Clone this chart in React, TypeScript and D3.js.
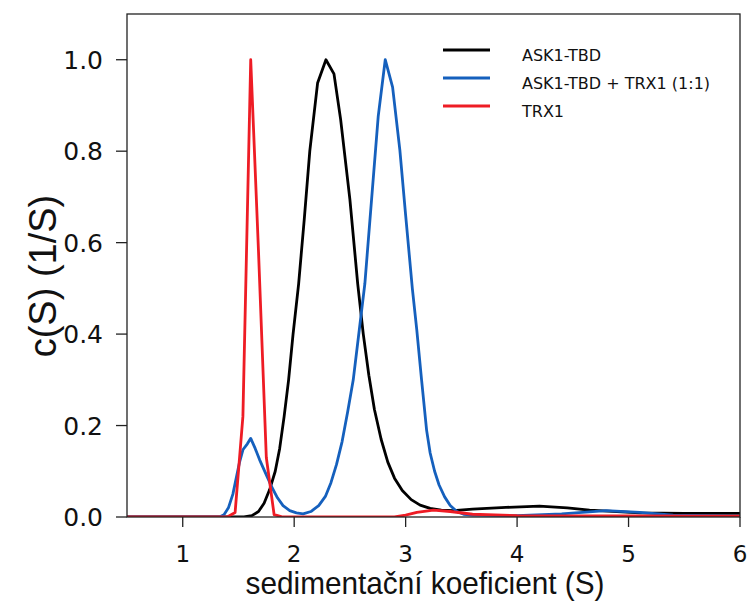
import React from "react";
import * as d3 from "d3";

// ---- data ----
const seriesNames = ["ASK1-TBD", "ASK1-TBD + TRX1 (1:1)", "TRX1"];
const seriesColors = ["#000000", "#1560bd", "#ee1c25"];

const ask1S = [0.5, 1.55, 1.62, 1.68, 1.73, 1.78, 1.83, 1.87, 1.91, 1.95, 1.99, 2.04, 2.09, 2.14, 2.21, 2.285, 2.357, 2.417, 2.5, 2.57, 2.62, 2.67, 2.72, 2.78, 2.84, 2.9, 2.97, 3.05, 3.13, 3.22, 3.32, 3.43, 3.6, 3.9, 4.2, 4.45, 4.65, 5.1, 5.5, 6.0];
const ask1C = [0, 0, 0.003, 0.012, 0.03, 0.06, 0.1, 0.15, 0.22, 0.3, 0.4, 0.51, 0.65, 0.8, 0.949, 1.0, 0.969, 0.869, 0.694, 0.51, 0.4, 0.31, 0.235, 0.17, 0.12, 0.085, 0.058, 0.038, 0.026, 0.019, 0.015, 0.014, 0.017, 0.021, 0.024, 0.02, 0.015, 0.009, 0.008, 0.008];

const complexS = [0.5, 1.33, 1.37, 1.41, 1.45, 1.48, 1.51, 1.54, 1.58, 1.61, 1.65, 1.69, 1.75, 1.8, 1.85, 1.9, 1.96, 2.02, 2.08, 2.15, 2.22, 2.28, 2.33, 2.38, 2.43, 2.48, 2.53, 2.584, 2.634, 2.754, 2.817, 2.883, 2.948, 3.0, 3.06, 3.1, 3.143, 3.188, 3.22, 3.26, 3.3, 3.35, 3.4, 3.46, 3.52, 3.6, 4.0, 4.4, 4.8, 5.1, 5.4, 6.0];
const complexC = [0, 0, 0.005, 0.02, 0.05, 0.085, 0.12, 0.147, 0.16, 0.172, 0.15, 0.125, 0.092, 0.065, 0.042, 0.025, 0.014, 0.009, 0.007, 0.012, 0.025, 0.045, 0.075, 0.115, 0.165, 0.23, 0.3, 0.409, 0.51, 0.876, 1.0, 0.94, 0.803, 0.66, 0.5, 0.409, 0.3, 0.19, 0.14, 0.1, 0.07, 0.044, 0.025, 0.012, 0.006, 0.004, 0.003, 0.007, 0.014, 0.01, 0.004, 0.002];

const trxS = [0.5, 1.4, 1.47, 1.54, 1.61, 1.68, 1.75, 1.82, 1.9, 2.9, 3.0, 3.1, 3.25, 3.4, 3.6, 4.0, 6.0];
const trxC = [0, 0, 0.01, 0.22, 1.0, 0.58, 0.13, 0.005, 0, 0, 0.004, 0.01, 0.015, 0.012, 0.006, 0.003, 0.002];

const xTicks = [1, 2, 3, 4, 5, 6];
const yTicks = [0, 0.2, 0.4, 0.6, 0.8, 1.0];
const xLabel = "sedimentační koeficient (S)";
const yLabel = "c(S) (1/S)";

export default function App() {
  const W = 748, H = 603;
  const L = 127, R = 740, T = 14, B = 517;
  const x = d3.scaleLinear().domain([0.5, 6]).range([L, R]);
  const y = d3.scaleLinear().domain([0, 1.1]).range([B, T]);
  const line = d3.line<[number, number]>().x(d => x(d[0])).y(d => y(d[1]));
  const series = [
    ask1S.map((s, i) => [s, ask1C[i]] as [number, number]),
    complexS.map((s, i) => [s, complexC[i]] as [number, number]),
    trxS.map((s, i) => [s, trxC[i]] as [number, number]),
  ];
  const tickFont = "DejaVu Sans, sans-serif";
  const labelFont = "Liberation Sans, Arial, sans-serif";
  const legendY = [50, 78, 106];
  return (
    <svg width={W} height={H} style={{ position: "absolute", left: 0, top: 0, background: "#fff" }}>
      <defs>
        <clipPath id="plotclip">
          <rect x={L} y={T} width={R - L} height={B - T} />
        </clipPath>
      </defs>
      <rect x={0} y={0} width={W} height={H} fill="#fff" />
      <g clipPath="url(#plotclip)">
        {series.map((d, i) => (
          <path key={i} d={line(d) || ""} fill="none" stroke={seriesColors[i]} strokeWidth={2.8} strokeLinejoin="round" />
        ))}
      </g>
      <rect x={L} y={T} width={R - L} height={B - T} fill="none" stroke="#222" strokeWidth={1.3} />
      {yTicks.map(t => (
        <g key={"y" + t}>
          <line x1={L - 11} x2={L} y1={y(t)} y2={y(t)} stroke="#222" strokeWidth={1.3} />
          <text x={L - 24} y={y(t)} dy="0.36em" textAnchor="end" fontFamily={tickFont} fontSize={25} fill="#111">
            {t.toFixed(1)}
          </text>
        </g>
      ))}
      {xTicks.map(t => (
        <g key={"x" + t}>
          <line x1={x(t)} x2={x(t)} y1={B} y2={B + 10} stroke="#222" strokeWidth={1.3} />
          <text x={x(t)} y={562} textAnchor="middle" fontFamily={tickFont} fontSize={23} fill="#111">
            {t}
          </text>
        </g>
      ))}
      <text transform={`translate(425,594) scale(0.93,1)`} textAnchor="middle" fontFamily={labelFont} fontSize={32} fill="#111">
        {xLabel}
      </text>
      <text transform={`translate(56,276) rotate(-90)`} textAnchor="middle" fontFamily={labelFont} fontSize={38} fill="#111">
        {yLabel}
      </text>
      {seriesNames.map((n, i) => (
        <g key={n}>
          <line x1={443} x2={490} y1={legendY[i]} y2={legendY[i]} stroke={seriesColors[i]} strokeWidth={3.2} />
          <text x={522} y={legendY[i] + 11} fontFamily={tickFont} fontSize={16} fill="#111">
            {n}
          </text>
        </g>
      ))}
    </svg>
  );
}
